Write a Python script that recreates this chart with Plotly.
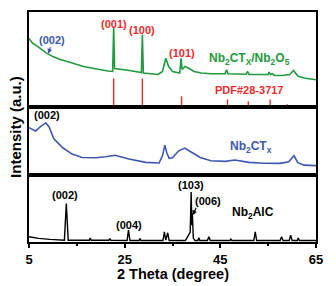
import plotly.graph_objects as go
from plotly.subplots import make_subplots

# ---------------- data (2theta, intensity a.u.) ----------------
# Nb2CTx/Nb2O5 (top panel)
green_x = [5, 5.8, 7, 8.5, 10, 11.5, 13, 14.5, 16.4, 18, 19.8, 21.5, 22.5, 22.7, 22.9, 24, 26, 28.5,
           28.7, 28.9, 30, 32, 32.9, 33.6, 34.2, 35, 36.5, 36.8, 37.0, 37.6, 38.5, 39.5, 41, 43, 46,
           46.3, 46.6, 48, 50.4, 50.7, 51, 53, 55.0, 55.2, 55.5, 55.9, 56.3, 58, 59.5, 60.3, 61.2,
           62.5, 64, 65]
green_y = [69.3, 64.3, 60.5, 55, 51, 48, 46, 43.5, 41, 39.5, 37.7, 36.5, 36, 81, 39, 38.5, 37, 35,
           73.3, 34.5, 34, 33, 36, 49.3, 41, 36, 34.5, 49.3, 38, 41, 39, 36, 34.5, 33.7, 33.7,
           37.7, 33.7, 33.5, 33.2, 36, 33, 33, 33, 35.3, 33, 33.7, 32, 32, 33, 37, 31.5,
           29.5, 28.2, 27.7]

# PDF#28-3717 reference sticks
pdf_x = [22.7, 28.7, 36.9, 46.5, 50.85, 55.4, 59.0]
pdf_y = [29, 29, 11, 7.7, 6, 7.7, 3]

# Nb2CTx (middle panel)
blue_x = [5, 5.7, 6.4, 7.3, 8.0, 8.5, 9.2, 10.2, 12, 14, 16.1, 19, 21, 23, 25.9, 29.4, 32.2, 32.9,
          33.4, 33.8, 34.3, 35, 36.3, 37.6, 38.8, 40.8, 43, 46, 48, 51, 54, 57.5, 59.3, 60.4, 61.2,
          62.5, 65]
blue_y = [47.3, 46, 44, 48, 51, 52.3, 48, 36, 27.3, 20.7, 17.3, 17, 18, 19.5, 15.7, 12.3, 11.7, 19,
          29.7, 22, 16.3, 17, 24, 26.7, 23, 17.3, 14, 13.3, 14.7, 12.3, 11.5, 11.3, 13, 19, 12,
          9.5, 9]

# Nb2AlC (bottom panel)
black_x = [5, 7, 9.4, 12.4, 12.8, 13.2, 17.6, 17.8, 18.0, 21.7, 21.9, 22.1, 25.5, 25.8, 26.1,
           28.0, 28.2, 28.4, 33.0, 33.3, 33.6, 34.0, 34.3, 37.7, 38.0, 38.4, 38.7, 38.9, 39.05,
           39.15, 39.35, 39.7, 40.3, 40.5, 40.7, 42.3, 42.6, 42.9, 47.0, 47.2, 47.4, 52.0, 52.3,
           52.6, 57.5, 57.8, 58.1, 59.4, 59.7, 60.0, 61.1, 61.3, 61.5, 65]
black_y = [5.3, 3.7, 2.7, 1.8, 38.7, 1.8, 1.8, 4, 1.8, 1.8, 3.5, 1.8, 1.5, 12, 1.5,
           1.5, 3.5, 1.5, 1.5, 10.3, 2, 9.3, 1.5, 1.5, 4, 7, 10, 50.3, 17,
           29, 4, 1.5, 1.5, 4.3, 1.5, 1.5, 5.3, 1.5, 1.5, 3, 1.5, 1.5, 10.3,
           1.5, 1.5, 5.3, 1.5, 1.5, 7, 1.5, 1.5, 4, 1.5, 1.5]

x_ticks = [5, 25, 45, 65]

GREEN = "#1f9a3d"
BLUE = "#3d58b0"
RED = "#ee2b2b"
BLACK = "#000000"
FONT = "Liberation Sans, Arial, sans-serif"

fig = make_subplots(rows=3, cols=1, shared_xaxes=True, vertical_spacing=0,
                    row_heights=[96, 68, 68])

# reference sticks as vertical line segments built from the stick lists
stick_x, stick_y = [], []
for px_, py_ in zip(pdf_x, pdf_y):
    stick_x += [px_, px_, None]
    stick_y += [0, py_, None]
fig.add_trace(go.Scatter(x=stick_x, y=stick_y, mode="lines", line=dict(color=RED, width=1.4),
                         showlegend=False, hoverinfo="skip"), row=1, col=1)
fig.add_trace(go.Scatter(x=green_x, y=green_y, mode="lines", line=dict(color=GREEN, width=1.6),
                         showlegend=False, hoverinfo="skip"), row=1, col=1)
fig.add_trace(go.Scatter(x=blue_x, y=blue_y, mode="lines", line=dict(color=BLUE, width=1.6),
                         showlegend=False, hoverinfo="skip"), row=2, col=1)
fig.add_trace(go.Scatter(x=black_x, y=black_y, mode="lines", line=dict(color=BLACK, width=1.4),
                         showlegend=False, hoverinfo="skip"), row=3, col=1)

axis_common = dict(showline=True, mirror=True, linecolor="black", linewidth=2,
                   showgrid=False, zeroline=False)
for r, yr in zip([1, 2, 3], [[0, 96], [0, 68], [0, 68]]):
    fig.update_yaxes(range=yr, showticklabels=False, ticks="", row=r, col=1, **axis_common)
    fig.update_xaxes(range=[5, 65], row=r, col=1, **axis_common)
fig.update_xaxes(showticklabels=False, ticks="", row=1, col=1)
fig.update_xaxes(showticklabels=False, ticks="", row=2, col=1)
fig.update_xaxes(tickvals=x_ticks, ticks="outside", ticklen=4, tickwidth=2, tickcolor="black",
                 minor=dict(tickvals=[15, 35, 55], ticks="outside", ticklen=2, tickwidth=2,
                            tickcolor="black"),
                 tickfont=dict(family=FONT, size=13, color="black", weight="bold"),
                 row=3, col=1)

def lab(text, x, y, color, size, xref, yref):
    fig.add_annotation(text=text, x=x, y=y, xref=xref, yref=yref, showarrow=False,
                       font=dict(family=FONT, size=size, color=color, weight="bold"))

# top panel labels
lab("(002)", 9.9, 67.7, BLUE, 11, "x", "y")
fig.add_annotation(x=9.0, y=54, ax=9.6, ay=62, xref="x", yref="y", axref="x", ayref="y",
                   text="", showarrow=True, arrowhead=2, arrowsize=0.8, arrowwidth=1.2,
                   arrowcolor=BLUE)
lab("(001)", 22.8, 84.3, RED, 11, "x", "y")
lab("(100)", 28.6, 77.7, RED, 11, "x", "y")
lab("(101)", 36.9, 54.3, RED, 11, "x", "y")
lab("Nb<sub>2</sub>CT<sub>X</sub>/Nb<sub>2</sub>O<sub>5</sub>", 51.2, 49, GREEN, 12, "x", "y")
lab("PDF#28-3717", 51.1, 17.7, RED, 11, "x", "y")

# middle panel labels
lab("(002)", 8.7, 60, BLACK, 11, "x2", "y2")
lab("Nb<sub>2</sub>CT<sub>x</sub>", 51.35, 28, BLUE, 12, "x2", "y2")

# bottom panel labels
lab("(002)", 12.6, 47, BLACK, 11, "x3", "y3")
lab("(004)", 25.9, 17, BLACK, 11, "x3", "y3")
lab("(103)", 38.8, 57, BLACK, 11, "x3", "y3")
lab("(006)", 42.4, 41, BLACK, 11, "x3", "y3")
fig.add_annotation(x=39.2, y=27, ax=40.1, ay=36, xref="x3", yref="y3", axref="x3", ayref="y3",
                   text="", showarrow=True, arrowhead=2, arrowsize=0.8, arrowwidth=1.2,
                   arrowcolor=BLACK)
lab("Nb<sub>2</sub>AlC", 51.8, 29, BLACK, 12, "x3", "y3")

# axis titles
fig.add_annotation(text="Intensity (a.u.)", xref="paper", yref="paper", x=-0.049, y=0.5,
                   textangle=-90, showarrow=False, xanchor="center", yanchor="middle",
                   font=dict(family=FONT, size=15, color="black", weight="bold"))
fig.add_annotation(text="2 Theta (degree)", xref="paper", yref="paper", x=0.5, y=-0.14,
                   showarrow=False, xanchor="center", yanchor="middle",
                   font=dict(family=FONT, size=14.5, color="black", weight="bold"))

fig.update_layout(width=336, height=286, margin=dict(l=29, r=20, t=10, b=44),
                  plot_bgcolor="white", paper_bgcolor="white", hovermode=False)

fig.write_html("out.html", config={"displayModeBar": False, "staticPlot": True},
               post_script="document.body.style.margin='0';document.body.style.padding='0';"
                           "document.body.style.overflow='hidden';")
